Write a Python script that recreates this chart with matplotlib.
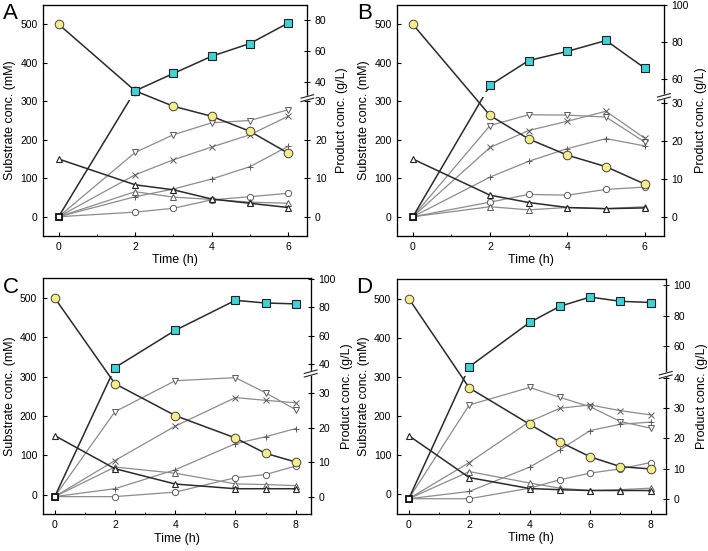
import numpy as np
import matplotlib as mpl
mpl.use('Agg')  # Headless mode
import matplotlib.pyplot as plt
from matplotlib.transforms import Bbox, TransformedBbox, blended_transform_factory

plt.rcParams['font.family'] = ['Liberation Sans', 'DejaVu Sans']

# ---- data (substrates in mM, products in g/L) ----
time_a = [0, 2, 3, 4, 5, 6]
glc_a = [500, 327, 287, 261, 222, 165]
xyl_a = [150, 83, 70, 46, 35, 24]
main_a = [0, 34.3, 45.5, 56.6, 64.8, 78.0]
down_a = [0, 16.7, 21.3, 24.4, 25.0, 27.8]
cross_a = [0, 10.9, 14.8, 18.1, 21.3, 26.1]
plus_a = [0, 5.2, 7.2, 9.8, 13.0, 18.3]
circ_a = [0, 1.2, 2.2, 4.4, 5.2, 6.1]
tri_a = [0, 6.5, 5.1, 4.5, 3.8, 3.5]

time_b = [0, 2, 3, 4, 5, 6]
glc_b = [500, 263, 202, 160, 130, 85]
xyl_b = [150, 56, 37, 24, 21, 23]
main_b = [0, 56.4, 69.8, 74.8, 80.7, 65.7]
down_b = [0, 23.7, 26.5, 26.4, 25.9, 19.4]
cross_b = [0, 18.0, 22.4, 24.8, 27.4, 20.4]
plus_b = [0, 10.3, 14.4, 17.7, 20.3, 18.4]
circ_b = [0, 3.8, 5.8, 5.6, 7.1, 7.7]
tri_b = [0, 2.6, 1.8, 2.4, 2.1, 2.6]

time_c = [0, 2, 4, 6, 7, 8]
glc_c = [500, 282, 201, 144, 105, 83]
xyl_c = [150, 66, 27, 15, 15, 15]
main_c = [0, 37.5, 63.8, 85.0, 83.1, 82.5]
down_c = [0, 24.7, 33.7, 34.6, 30.2, 25.3]
cross_c = [0, 10.5, 20.5, 28.8, 28.0, 27.3]
plus_c = [0, 2.3, 7.8, 15.4, 17.4, 19.8]
circ_c = [0, 0, 1.3, 5.5, 6.4, 8.9]
tri_c = [0, 8.6, 6.8, 3.7, 3.5, 3.2]

time_d = [0, 2, 4, 5, 6, 7, 8]
glc_d = [500, 272, 179, 134, 96, 71, 65]
xyl_d = [150, 43, 15, 12, 10, 10, 10]
main_d = [0, 46.1, 75.5, 86.2, 92.3, 89.5, 88.7]
down_d = [0, 31.1, 36.9, 33.6, 30.5, 25.6, 23.4]
cross_d = [0, 12.0, 25.6, 30.0, 31.1, 29.2, 27.8]
plus_d = [0, 2.4, 10.5, 16.2, 22.6, 24.7, 25.4]
circ_d = [0, 0, 3.5, 6.3, 8.5, 9.9, 12.0]
tri_d = [0, 9.0, 5.2, 3.5, 2.7, 3.0, 3.5]

rticks_a = [0, 10, 20, 30, 40, 60, 80]
rticks_b = [0, 10, 20, 30, 60, 80, 100]
rticks_cd = [0, 10, 20, 30, 40, 60, 80, 100]

GRAY = '#8c8c8c'
DARK = '#2a2a2a'
YELLOW = '#f6ed86'
CYAN = '#3fd3d8'

fig = plt.figure(figsize=(7.08, 5.51), dpi=100)


def broken_scale(lo_off, lo_slope, lo_top, up_ref, up_mm, up_slope, up_bot):
    # broken right axis: product g/L -> position on the substrate (mM) axis
    pk = np.array([-50.0, lo_top, up_bot, 200.0])
    yk = np.array([lo_off + lo_slope * -50.0, lo_off + lo_slope * lo_top,
                   up_mm + up_slope * (up_bot - up_ref),
                   up_mm + up_slope * (200.0 - up_ref)])
    return (lambda p: np.interp(p, pk, yk)), (lambda y: np.interp(y, yk, pk))


def panel(pos, letter, lpos, t, glc, xyl, main, down, cross, plus, circ, tri,
          scale, xmax, xticks, rticks, brk, gap, rpad):
    ax = fig.add_axes(pos)
    low = ax.twinx()
    top = ax.twinx()
    low.set_zorder(1)
    ax.set_zorder(2)
    top.set_zorder(3)
    ax.patch.set_visible(False)
    fwd, inv = scale
    for a in (low, top):
        a.set_yscale('function', functions=(fwd, inv))
        a.set_ylim(inv(-50), inv(550))
    ax.set_ylim(-50, 550)
    ax.set_xlim(-0.4, xmax)

    # products, lower part of right axis
    for vals, m in [(down, 'v'), (cross, 'x'), (plus, '+'), (circ, 'o'), (tri, '^')]:
        low.plot(t, vals, color=GRAY, lw=0.9, marker=m, ms=4.5, mfc='white',
                 mec='#5a5a5a', mew=0.7)

    # substrates, left axis
    ax.plot(t, xyl, color=DARK, lw=1.1, marker='^', ms=5, mfc='white', mec='#222', mew=0.8)
    ax.plot(t, glc, color=DARK, lw=1.1, marker='o', ms=6.2, mfc=YELLOW, mec='#444', mew=0.7)

    # main product, line broken at the axis break
    x0, x1 = -0.4, xmax
    l1, = top.plot(t, main, color=DARK, lw=1.1)
    l2, = top.plot(t, main, color=DARK, lw=1.1)
    l1.set_clip_box(TransformedBbox(Bbox([[x0, -50], [x1, gap[0]]]), ax.transData))
    l2.set_clip_box(TransformedBbox(Bbox([[x0, gap[1]], [x1, 550]]), ax.transData))
    top.plot(t[1:], main[1:], ls='none', marker='s', ms=5.2, mfc=CYAN, mec='#222', mew=0.8)
    top.plot(t[:1], main[:1], ls='none', marker='s', ms=5, mfc='white', mec='#111', mew=1.3)

    # ticks
    ax.set_yticks([0, 100, 200, 300, 400, 500])
    ax.set_xticks(xticks)
    ax.set_xticks([v + 1 for v in xticks[:-1]], minor=True)
    ax.tick_params(axis='both', which='major', direction='in', length=2.6, labelsize=7.5, pad=4)
    ax.tick_params(axis='x', which='minor', direction='in', length=1.8)
    low.set_yticks([])
    low.tick_params(axis='y', which='both', right=False, labelright=False)
    top.set_yticks(rticks)
    top.set_yticklabels([str(v) for v in rticks])
    top.yaxis.set_minor_locator(mpl.ticker.NullLocator())
    top.tick_params(axis='y', direction='inout', length=3.8, labelsize=7.5, pad=3.6)

    ax.set_xlabel('Time (h)', fontsize=9, labelpad=2)
    ax.set_ylabel('Substrate conc. (mM)', fontsize=9, labelpad=3)
    top.set_ylabel('Product conc. (g/L)', fontsize=9, labelpad=rpad)

    # break marks on the right spine
    tr = blended_transform_factory(ax.transAxes, ax.transData)
    dx, h, s = 0.024, 4.5, 4.5
    top.fill([1 - dx, 1 + dx, 1 + dx, 1 - dx],
             [brk - s - h, brk - s + h, brk + s + h, brk + s - h],
             color='white', transform=tr, clip_on=False, zorder=5)
    for off in (-s, s):
        top.plot([1 - dx, 1 + dx], [brk + off - h, brk + off + h], color='#222',
                 lw=0.8, transform=tr, clip_on=False, zorder=6)

    fig.text(lpos[0] / 708, 1 - lpos[1] / 551, letter, fontsize=16, va='top', ha='left')


panel([43.3 / 708, 315 / 551, 264 / 708, 231 / 551], 'A', (3, 3), time_a, glc_a, xyl_a,
      main_a, down_a, cross_a, plus_a, circ_a, tri_a,
      broken_scale(0, 10, 30, 40, 350, 4.03, 31), 6.5, [0, 2, 4, 6], rticks_a, 308, (304, 316), 6.5)
panel([397.3 / 708, 315 / 551, 266.7 / 708, 231 / 551], 'B', (357, 3), time_b, glc_b, xyl_b,
      main_b, down_b, cross_b, plus_b, circ_b, tri_b,
      broken_scale(0, 10, 30, 60, 363.5, 4.83, 50), 6.5, [0, 2, 4, 6], rticks_b, 311, (310, 325), 4)
panel([42.7 / 708, 36.7 / 551, 268 / 708, 236 / 551], 'C', (3, 277), time_c, glc_c, xyl_c,
      main_c, down_c, cross_c, plus_c, circ_c, tri_c,
      broken_scale(-5, 8.74, 35, 40, 332, 3.6, 36), 8.5, [0, 2, 4, 6, 8], rticks_cd, 308, (302, 316), 4)
panel([396.7 / 708, 37 / 551, 269 / 708, 235 / 551], 'D', (356, 277), time_d, glc_d, xyl_d,
      main_d, down_d, cross_d, plus_d, circ_d, tri_d,
      broken_scale(-11, 7.7, 40, 60, 379.5, 3.85, 42), 8.5, [0, 2, 4, 6, 8], rticks_cd, 305, (303, 317), 4)

fig.savefig('out.png', dpi=100)
